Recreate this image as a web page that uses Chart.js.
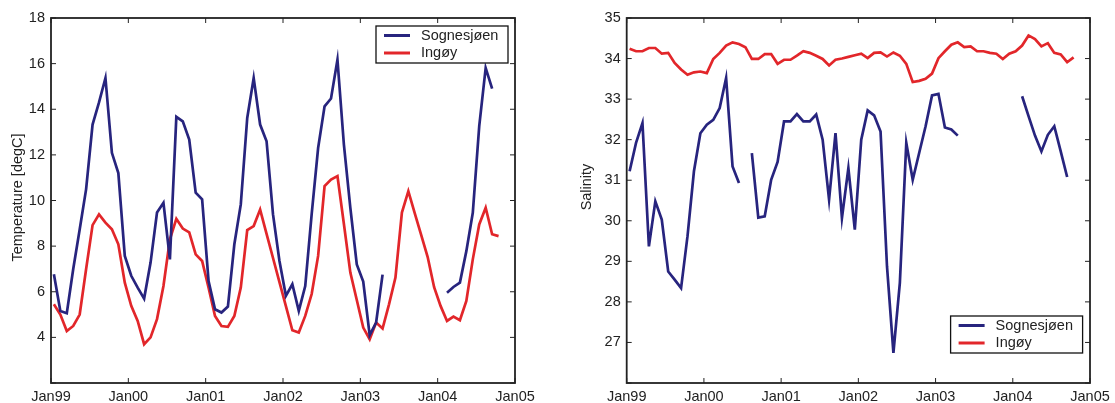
<!DOCTYPE html>
<html>
<head>
<meta charset="utf-8">
<script src="https://cdn.jsdelivr.net/npm/chart.js@4.4.1/dist/chart.umd.min.js"></script>
<style>
  html, body { margin: 0; padding: 0; background: #fff; }
  #wrap { position: relative; width: 1115px; height: 403px; overflow: hidden; }
  #wrap div { position: absolute; top: 0; height: 403px; }
</style>
</head>
<body>
<div id="wrap">
  <div style="left:0; width:540px"><canvas id="temp"></canvas></div>
  <div style="left:555px; width:560px"><canvas id="salt"></canvas></div>
</div>
<script>
// monthly samples, index 0 = Jan 1999 ... 69 = Oct 2004
var yearLabels = ["Jan99", "Jan00", "Jan01", "Jan02", "Jan03", "Jan04", "Jan05"];
var stations = ["Sognesjøen", "Ingøy"];

var tempSognesjoen = [
    6.77, 5.16, 5.06, 7.0, 8.73, 10.5, 13.33, 14.3, 15.37, 12.09, 11.2, 7.57,
    6.7, 6.18, 5.7, 7.28, 9.47, 9.9, 7.42, 13.67, 13.47, 12.67, 10.34, 10.05,
    6.47, 5.23, 5.09, 5.35, 8.08, 9.83, 13.62, 15.37, 13.33, 12.6, 9.39, 7.35,
    5.82, 6.33, 5.16, 6.25, 9.4, 12.3, 14.13, 14.47, 16.17, 12.45, 9.68, 7.2,
    6.45, 4.1, 4.65, 6.75, null, null, null, null, null, null, null, null,
    null, 5.96, 6.21, 6.4, 7.78, 9.46, 13.26, 15.81, 14.9, null
];
var tempIngoy = [
    5.45, 5.0, 4.28, 4.5, 5.0, 7.0, 8.92, 9.39, 9.03, 8.74, 8.08, 6.4,
    5.38, 4.72, 3.7, 4.0, 4.8, 6.25, 8.3, 9.2, 8.77, 8.6, 7.64, 7.35,
    6.18, 4.94, 4.5, 4.46, 4.94, 6.18, 8.7, 8.88, 9.6, 8.54, 7.48, 6.42,
    5.37, 4.31, 4.21, 4.94, 5.9, 7.57, 10.63, 10.92, 11.07, 8.97, 6.84, 5.64,
    4.43, 3.92, 4.65, 4.39, 5.45, 6.62, 9.47, 10.41, 9.44, 8.48, 7.52, 6.2,
    5.38, 4.72, 4.91, 4.75, 5.6, 7.42, 8.95, 9.68, 8.52, 8.44
];

var saltSognesjoen = [
    31.22, 31.92, 32.41, 29.37, 30.48, 30.03, 28.75, 28.55, 28.34, 29.62, 31.22, 32.16,
    32.37, 32.49, 32.78, 33.52, 31.34, 30.93, null, 31.67, 30.08, 30.11, 31.01, 31.45,
    32.45, 32.45, 32.63, 32.45, 32.45, 32.62, 32.0, 30.52, 32.16, 30.07, 31.3, 29.78,
    32.0, 32.72, 32.6, 32.2, 28.88, 26.74, 28.47, 31.92, 31.01, 31.67, 32.33, 33.09,
    33.13, 32.3, 32.25, 32.1, null, null, null, null, null, null, null, null,
    null, 33.07, 32.58, 32.1, 31.71, 32.12, 32.33, 31.71, 31.08, null
];
var saltIngoy = [
    34.24, 34.18, 34.18, 34.26, 34.26, 34.12, 34.14, 33.89, 33.73, 33.6, 33.66, 33.68,
    33.64, 33.99, 34.14, 34.32, 34.4, 34.36, 34.28, 33.99, 33.99, 34.11, 34.11, 33.87,
    33.97, 33.97, 34.07, 34.18, 34.14, 34.07, 33.99, 33.83, 33.97, 34.0, 34.04, 34.08,
    34.12, 34.01, 34.14, 34.15, 34.05, 34.15, 34.07, 33.87, 33.42, 33.45, 33.5, 33.63,
    34.01, 34.18, 34.34, 34.4, 34.28, 34.3, 34.18, 34.18, 34.14, 34.12, 33.99, 34.12,
    34.18, 34.32, 34.57, 34.48, 34.3, 34.38, 34.14, 34.1, 33.91, 34.03
];

var BLUE = "#27247e";
var RED = "#e2262a";
var INK = "#222";
var FONT = "'Liberation Sans', Arial, sans-serif";

function toPoints(values) {
    return values.map(function (v, i) {
        return { x: i + 0.45, y: v };
    });
}

// box around the axes, inward ticks on all four sides, y title and a framed legend
var framePlugin = {
    id: "frame",
    afterDraw: function (chart, args, opts) {
        var ctx = chart.ctx;
        var a = chart.chartArea;
        var xs = chart.scales.x, ys = chart.scales.y;
        ctx.save();
        ctx.strokeStyle = INK;
        ctx.lineWidth = 1;
        ctx.beginPath();
        xs.ticks.forEach(function (t) {
            var px = xs.getPixelForValue(t.value);
            ctx.moveTo(px, a.bottom); ctx.lineTo(px, a.bottom - 5);
            ctx.moveTo(px, a.top); ctx.lineTo(px, a.top + 5);
        });
        ys.ticks.forEach(function (t) {
            var py = ys.getPixelForValue(t.value);
            ctx.moveTo(a.left, py); ctx.lineTo(a.left + 5, py);
            ctx.moveTo(a.right, py); ctx.lineTo(a.right - 5, py);
        });
        ctx.stroke();
        ctx.lineWidth = 1.8;
        ctx.strokeRect(a.left, a.top, a.right - a.left, a.bottom - a.top);

        // y axis title
        ctx.save();
        ctx.translate(opts.titleX, (a.top + a.bottom) / 2 + opts.titleShift);
        ctx.rotate(-Math.PI / 2);
        ctx.font = "14.5px " + FONT;
        ctx.fillStyle = INK;
        ctx.textAlign = "center";
        ctx.textBaseline = "middle";
        ctx.fillText(opts.title, 0, 0);
        ctx.restore();

        // legend
        var w = 132, h = 37;
        var bx = a.right - opts.dx - w;
        var by = opts.corner === "top" ? a.top + opts.dy : a.bottom - opts.dy - h;
        ctx.fillStyle = "#fff";
        ctx.fillRect(bx, by, w, h);
        ctx.lineWidth = 1.3;
        ctx.strokeStyle = "#111";
        ctx.strokeRect(bx, by, w, h);
        ctx.font = "14.5px " + FONT;
        ctx.textBaseline = "middle";
        chart.data.datasets.forEach(function (ds, i) {
            var ry = by + 9.5 + i * 17.5;
            ctx.strokeStyle = ds.borderColor;
            ctx.lineWidth = 3;
            ctx.beginPath();
            ctx.moveTo(bx + 8, ry);
            ctx.lineTo(bx + 34, ry);
            ctx.stroke();
            ctx.fillStyle = INK;
            ctx.fillText(ds.label, bx + 45, ry);
        });
        ctx.restore();
    }
};

function makeChart(id, seriesA, seriesB, yMin, yMax, yStep, yWidth, frameOpts) {
    return new Chart(document.getElementById(id), {
        type: "line",
        data: {
            datasets: [
                { label: stations[0], data: toPoints(seriesA), borderColor: BLUE, borderWidth: 2.7, pointRadius: 0, spanGaps: false, tension: 0 },
                { label: stations[1], data: toPoints(seriesB), borderColor: RED, borderWidth: 2.7, pointRadius: 0, spanGaps: false, tension: 0 }
            ]
        },
        options: {
            responsive: true,
            maintainAspectRatio: false,
            animation: false,
            layout: { padding: { top: 18, right: 25, left: 0, bottom: 0 } },
            plugins: {
                legend: { display: false },
                tooltip: { enabled: false },
                frame: frameOpts
            },
            scales: {
                x: {
                    type: "linear",
                    min: 0,
                    max: 72,
                    grid: { display: false, drawTicks: false },
                    border: { display: false },
                    afterFit: function (s) { s.height = 20; },
                    ticks: {
                        stepSize: 12,
                        autoSkip: false,
                        maxRotation: 0,
                        padding: 5,
                        color: INK,
                        font: { family: FONT, size: 14.5 },
                        callback: function (v) { return yearLabels[v / 12]; }
                    }
                },
                y: {
                    min: yMin,
                    max: yMax,
                    grid: { display: false, drawTicks: false },
                    border: { display: false },
                    afterFit: function (s) { s.width = yWidth; },
                    ticks: {
                        stepSize: yStep,
                        padding: 6,
                        color: INK,
                        font: { family: FONT, size: 14.5 },
                        callback: function (v) { return v === yMin ? "" : v; }
                    }
                }
            }
        },
        plugins: [framePlugin]
    });
}

makeChart("temp", tempSognesjoen, tempIngoy, 2, 18, 2, 51,
    { title: "Temperature [degC]", titleX: 17.5, titleShift: -3, corner: "top", dx: 7, dy: 8 });
makeChart("salt", saltSognesjoen, saltIngoy, 26, 35, 1, 71.7,
    { title: "Salinity", titleX: 32, titleShift: -13.5, corner: "bottom", dx: 7.4, dy: 30 });
</script>
</body>
</html>
